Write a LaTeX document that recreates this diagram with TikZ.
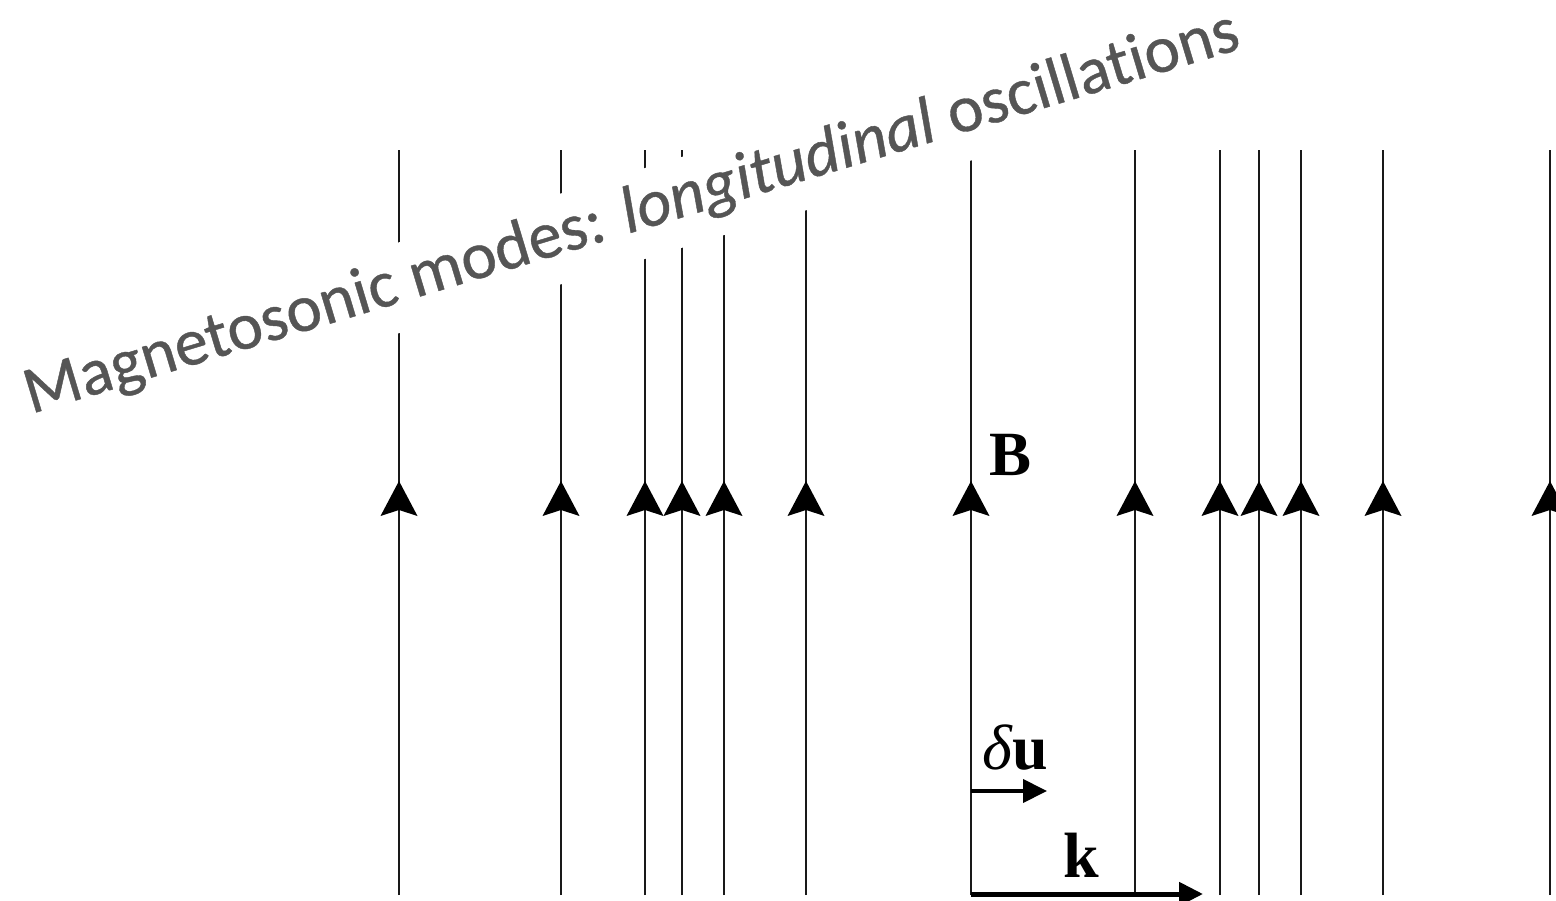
\documentclass[tikz,border=0pt]{standalone}
\usepackage{fontspec}
\setmainfont{Liberation Serif}
\newfontfamily\calib[Ligatures=NoCommon,FakeBold=0.6]{Carlito}
\usetikzlibrary{arrows.meta}
\definecolor{titlegray}{RGB}{85,85,85}
\begin{document}
\begin{tikzpicture}[x=1pt,y=-1pt,
  fieldline/.style={line width=2.6pt, black!90},
  headpic/.pic={\fill[black] (0,0) -- (18.5,35) -- (0,29) -- (-18.5,35) -- cycle;},
  vecarrow/.style={line width=#1, -{Triangle[length=24pt,width=23pt]}},
  lbl/.style={anchor=base west, inner sep=0pt}]
\clip (0,0) rectangle (1556,901);
\fill[white] (0,0) rectangle (1556,901);
\foreach \x in {399,561,645,682,724,806,971,1135,1220,1259,1301,1383,1550} {
  \draw[fieldline] (\x,895) -- (\x,150);
  \pic at (\x,481) {headpic};
}
\node[fill=white, rotate=16.8, anchor=base west, inner sep=0pt,
      text height=58pt, text depth=29pt, text=titlegray,
      font=\calib\fontsize{67}{77}\selectfont] (title) at (31,414)
  {Magnetosonic modes: \textit{longitudinal} oscillations};
\node[lbl, font=\bfseries\fontsize{63}{70}\selectfont] (B) at (989,475) {B};
\node[lbl, font=\fontsize{64}{70}\selectfont] (du) at (982,769) {\textit{δ}\textbf{u}};
\node[lbl, font=\bfseries\fontsize{64}{70}\selectfont] (k) at (1063,877) {k};
\coordinate (du0) at (971,791);
\coordinate (du1) at (1047,791);
\coordinate (k0) at (971,894);
\coordinate (k1) at (1203,894);
\draw[vecarrow=4pt] (du0) -- (du1);
\draw[vecarrow=5pt] (k0) -- (k1);
\end{tikzpicture}
\end{document}
